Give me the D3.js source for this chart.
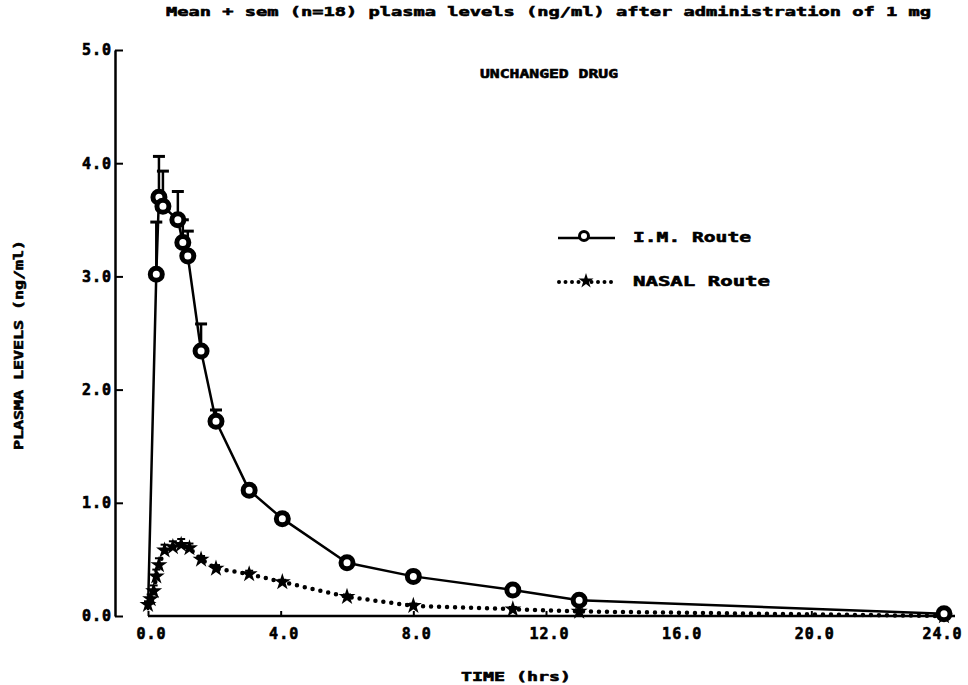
<!DOCTYPE html>
<html>
<head>
<meta charset="utf-8">
<script src="https://cdn.jsdelivr.net/npm/d3@7"></script>
<style>
  body { margin: 0; background: #fff; }
  text { font-family: "DejaVu Sans Mono", monospace; font-weight: bold; fill: #000; stroke: #000; stroke-width: 0.6px; }
</style>
</head>
<body>
<svg class="graph"></svg>
<script>
// values
const imTime = [0, 0.25, 0.33, 0.45, 0.9, 1.05, 1.2, 1.6, 2.05, 3.05, 4.05, 6, 8, 11, 13, 24];
const imMean = [0.05, 3.02, 3.7, 3.62, 3.5, 3.3, 3.18, 2.34, 1.72, 1.11, 0.86, 0.47, 0.35, 0.23, 0.14, 0.02];
const imSem  = [0, 0.46, 0.36, 0.31, 0.25, 0.2, 0.22, 0.24, 0.1, 0.04, 0.04, 0.03, 0.02, 0.02, 0.02, 0.02];

const nasalTime = [0, 0.08, 0.17, 0.25, 0.33, 0.5, 0.75, 1.0, 1.25, 1.6, 2.05, 3.05, 4.05, 6, 8, 11, 13, 24];
const nasalMean = [0.1, 0.15, 0.22, 0.35, 0.45, 0.58, 0.61, 0.63, 0.6, 0.5, 0.42, 0.37, 0.3, 0.17, 0.09, 0.06, 0.04, 0.0];
const nasalSem  = [0.03, 0.04, 0.05, 0.06, 0.06, 0.05, 0.05, 0.05, 0.04, 0.03, 0.03, 0.03, 0.02, 0.02, 0.02, 0.02, 0.02, 0.02];

const xTicks = [0, 4, 8, 12, 16, 20, 24];
const yTicks = [0, 1, 2, 3, 4, 5];

const titleText = "Mean + sem (n=18) plasma levels (ng/ml) after administration of 1 mg";
const subTitle = "UNCHANGED DRUG";
const xLabel = "TIME (hrs)";
const yLabel = "PLASMA LEVELS (ng/ml)";
const legendNames = ["I.M. Route", "NASAL Route"];

const W = 968, H = 685;
var svg = d3.select(".graph").attr("width", W).attr("height", H);

var x = d3.scaleLinear().domain([0, 24]).range([148, 944]);
var y = d3.scaleLinear().domain([0, 5]).range([616, 50]);

const im = imTime.map((t, i) => ({ t: t, v: imMean[i], s: imSem[i] }));
const nasal = nasalTime.map((t, i) => ({ t: t, v: nasalMean[i], s: nasalSem[i] }));

// title texts
svg.append("text").attr("x", 166).attr("y", 16).attr("font-size", 13)
  .attr("textLength", 765).attr("lengthAdjust", "spacingAndGlyphs").text(titleText);
svg.append("text").attr("x", 480).attr("y", 78).attr("font-size", 13)
  .attr("textLength", 138).attr("lengthAdjust", "spacingAndGlyphs").text(subTitle);

// y axis (detached, to the left)
var yAxis = d3.axisLeft(y).tickValues(yTicks).tickSizeInner(-8).tickSizeOuter(0)
  .tickPadding(3).tickFormat(d3.format(".1f"));
var gy = svg.append("g").attr("transform", "translate(115,0)").call(yAxis);
gy.select(".domain").attr("stroke-width", 2.5);
gy.selectAll(".tick line").attr("stroke-width", 2);
gy.selectAll(".tick text").attr("font-size", 15).attr("letter-spacing", 1).attr("font-family", null);

// x axis
var xAxis = d3.axisBottom(x).tickValues(xTicks).tickSizeInner(-5).tickSizeOuter(0)
  .tickPadding(12).tickFormat(d3.format(".1f"));
var gx = svg.append("g").attr("transform", "translate(0,616)").call(xAxis);
gx.select(".domain").attr("stroke-width", 2.5).attr("d", "M" + x(0) + ",0H955");
gx.selectAll(".tick line").attr("stroke-width", 2);
gx.selectAll(".tick text").attr("font-size", 15).attr("letter-spacing", 1)
  .attr("dx", d => d === 24 ? -2 : 3).attr("font-family", null);

svg.append("text").attr("x", 461).attr("y", 681).attr("font-size", 13)
  .attr("textLength", 110).attr("lengthAdjust", "spacingAndGlyphs").text(xLabel);
svg.append("text").attr("transform", "translate(23,450) rotate(-90)").attr("font-size", 13)
  .attr("textLength", 210).attr("lengthAdjust", "spacingAndGlyphs").text(yLabel);

var line = d3.line().x(d => x(d.t)).y(d => y(d.v));

// nasal route: dotted line
svg.append("path").datum(nasal)
  .attr("fill", "none").attr("stroke", "#000").attr("stroke-width", 4.5)
  .attr("stroke-linecap", "round").attr("stroke-dasharray", "0 8")
  .attr("d", line);

// nasal error bars
var ne = svg.append("g").selectAll("g").data(nasal).enter().append("g");
ne.append("line").attr("x1", d => x(d.t)).attr("x2", d => x(d.t))
  .attr("y1", d => y(d.v)).attr("y2", d => y(d.v + d.s)).attr("stroke", "#000").attr("stroke-width", 2);
ne.append("line").attr("x1", d => x(d.t) - 4).attr("x2", d => x(d.t) + 4)
  .attr("y1", d => y(d.v + d.s)).attr("y2", d => y(d.v + d.s)).attr("stroke", "#000").attr("stroke-width", 2);

var star = d3.symbol().type(d3.symbolStar).size(90);
svg.append("g").selectAll("path").data(nasal).enter().append("path")
  .attr("transform", d => "translate(" + x(d.t) + "," + y(d.v) + ")")
  .attr("d", star).attr("fill", "#000");

// I.M. route: solid line
svg.append("path").datum(im)
  .attr("fill", "none").attr("stroke", "#000").attr("stroke-width", 2.5)
  .attr("stroke-linejoin", "round").attr("d", line);

var ie = svg.append("g").selectAll("g").data(im.filter(d => d.s > 0)).enter().append("g");
ie.append("line").attr("x1", d => x(d.t)).attr("x2", d => x(d.t))
  .attr("y1", d => y(d.v)).attr("y2", d => y(d.v + d.s)).attr("stroke", "#000").attr("stroke-width", 2.5);
ie.append("line").attr("x1", d => x(d.t) - 6).attr("x2", d => x(d.t) + 6)
  .attr("y1", d => y(d.v + d.s)).attr("y2", d => y(d.v + d.s)).attr("stroke", "#000").attr("stroke-width", 3);

svg.append("g").selectAll("circle").data(im.slice(1)).enter().append("circle")
  .attr("cx", d => x(d.t)).attr("cy", d => y(d.v)).attr("r", 6)
  .attr("fill", "#fff").attr("stroke", "#000").attr("stroke-width", 5);

// legend
var lg = svg.append("g");
lg.append("line").attr("x1", 558).attr("x2", 615).attr("y1", 238).attr("y2", 238)
  .attr("stroke", "#000").attr("stroke-width", 2.5);
lg.append("circle").attr("cx", 584).attr("cy", 236).attr("r", 4.5)
  .attr("fill", "#fff").attr("stroke", "#000").attr("stroke-width", 3);
lg.append("text").attr("x", 633).attr("y", 242).attr("font-size", 14)
  .attr("textLength", 118).attr("lengthAdjust", "spacingAndGlyphs").text(legendNames[0]);

lg.append("line").attr("x1", 559).attr("x2", 615).attr("y1", 282).attr("y2", 282)
  .attr("stroke", "#000").attr("stroke-width", 4).attr("stroke-linecap", "round")
  .attr("stroke-dasharray", "0 6.5");
lg.append("path").attr("transform", "translate(586,281)").attr("d", d3.symbol().type(d3.symbolStar).size(70)).attr("fill", "#000");
lg.append("text").attr("x", 633).attr("y", 286).attr("font-size", 14)
  .attr("textLength", 137).attr("lengthAdjust", "spacingAndGlyphs").text(legendNames[1]);
</script>
</body>
</html>
